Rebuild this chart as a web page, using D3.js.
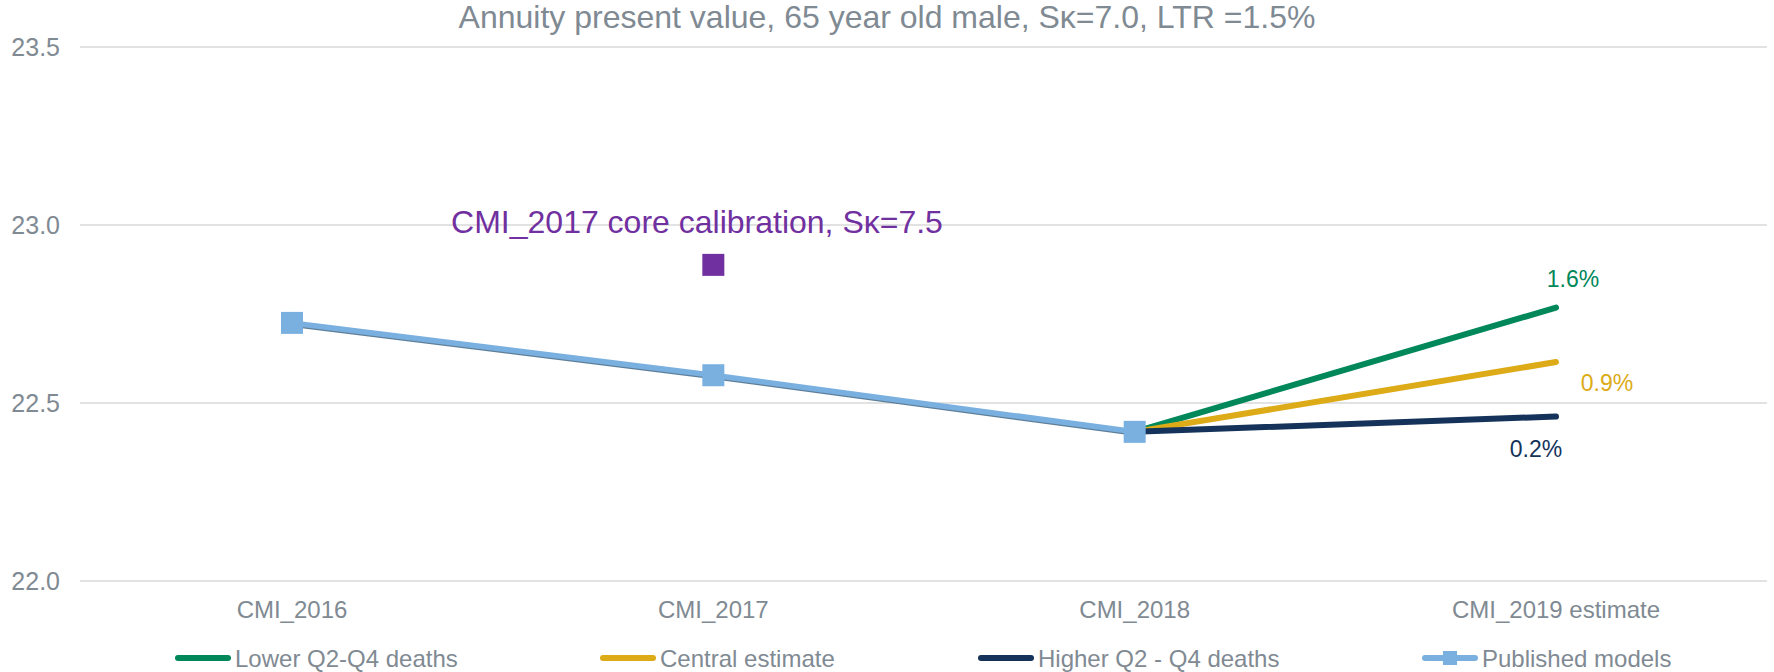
<!DOCTYPE html>
<html>
<head>
<meta charset="utf-8">
<script src="https://cdn.jsdelivr.net/npm/d3@7"></script>
<style>
  body { margin: 0; background: #fff; }
  text { font-family: "Liberation Sans", Arial, sans-serif; }
</style>
</head>
<body>
<div id="chart"></div>
<script>
// data
const categories = ["CMI_2016", "CMI_2017", "CMI_2018", "CMI_2019 estimate"];
const published = [22.725, 22.578, 22.419];
const lowerDeaths = [22.419, 22.768];
const centralEst = [22.419, 22.615];
const higherDeaths = [22.419, 22.462];
const coreCalibration = 22.888;
const scenarioLabels = ["1.6%", "0.9%", "0.2%"];
const yTicks = [22.0, 22.5, 23.0, 23.5];
const legendNames = ["Lower Q2-Q4 deaths", "Central estimate", "Higher Q2 - Q4 deaths", "Published models"];

const W = 1774, H = 672;
const grey = "#7f8a93";
const colors = { lower: "#00875a", central: "#dcab17", higher: "#15335a", pub: "#7ab0e0", core: "#7030a0" };

const svg = d3.select("#chart").append("svg")
    .attr("width", W)
    .attr("height", H);

const x = d3.scalePoint().domain(categories).range([292, 1556]);
const y = d3.scaleLinear().domain([22.0, 23.5]).range([581, 47]);

// gridlines + y labels
svg.append("g")
    .selectAll("line")
    .data(yTicks)
    .join("line")
    .attr("x1", 80).attr("x2", 1767)
    .attr("y1", d => y(d)).attr("y2", d => y(d))
    .attr("stroke", "#e2e2e2")
    .attr("stroke-width", 2);

svg.append("g")
    .selectAll("text")
    .data(yTicks)
    .join("text")
    .attr("x", 60)
    .attr("y", d => y(d) + 9)
    .attr("text-anchor", "end")
    .attr("font-size", 25)
    .attr("fill", grey)
    .text(d => d.toFixed(1));

// x labels
svg.append("g")
    .selectAll("text")
    .data(categories)
    .join("text")
    .attr("x", d => x(d))
    .attr("y", 618)
    .attr("text-anchor", "middle")
    .attr("font-size", 24)
    .attr("fill", grey)
    .text(d => d);

// title
svg.append("text")
    .attr("x", W / 2)
    .attr("y", 28)
    .attr("text-anchor", "middle")
    .attr("font-size", 32)
    .attr("fill", grey)
    .text("Annuity present value, 65 year old male, S\u03BA=7.0, LTR =1.5%");

const line = d3.line()
    .x(d => x(d.c))
    .y(d => y(d.v));

const scenCats = categories.slice(2);
const scenarios = [
    { vals: lowerDeaths, color: colors.lower },
    { vals: centralEst, color: colors.central },
    { vals: higherDeaths, color: colors.higher }
];

scenarios.forEach(s => {
    svg.append("path")
        .datum(s.vals.map((v, i) => ({ c: scenCats[i], v })))
        .attr("fill", "none")
        .attr("stroke", s.color)
        .attr("stroke-width", 6)
        .attr("stroke-linecap", "round")
        .attr("d", line);
});

// scenario % labels
const labelOffsets = [[17, -21], [51, 29], [-20, 40]];
svg.append("g")
    .selectAll("text")
    .data(scenarios)
    .join("text")
    .attr("x", (d, i) => x(categories[3]) + labelOffsets[i][0])
    .attr("y", (d, i) => y(d.vals[1]) + labelOffsets[i][1])
    .attr("text-anchor", "middle")
    .attr("font-size", 23)
    .attr("fill", d => d.color)
    .text((d, i) => scenarioLabels[i]);

// published models
const pubData = published.map((v, i) => ({ c: categories[i], v }));
svg.append("path")
    .datum(pubData)
    .attr("fill", "none")
    .attr("stroke", "#5e7f99")
    .attr("stroke-width", 6)
    .attr("transform", "translate(0,1)")
    .attr("d", line);
svg.append("path")
    .datum(pubData)
    .attr("fill", "none")
    .attr("stroke", colors.pub)
    .attr("stroke-width", 5.5)
    .attr("d", line);
svg.append("g")
    .selectAll("rect")
    .data(pubData)
    .join("rect")
    .attr("x", d => x(d.c) - 11)
    .attr("y", d => y(d.v) - 11)
    .attr("width", 22)
    .attr("height", 22)
    .attr("fill", colors.pub);

// CMI_2017 core calibration point
svg.append("rect")
    .attr("x", x("CMI_2017") - 11)
    .attr("y", y(coreCalibration) - 11)
    .attr("width", 22)
    .attr("height", 22)
    .attr("fill", colors.core);
svg.append("text")
    .attr("x", 697)
    .attr("y", 233)
    .attr("text-anchor", "middle")
    .attr("font-size", 32)
    .attr("fill", colors.core)
    .text("CMI_2017 core calibration, S\u03BA=7.5");

// legend
const legendX = [175, 600, 978, 1422];
const legendColors = [colors.lower, colors.central, colors.higher, colors.pub];
const lg = svg.append("g")
    .selectAll("g")
    .data(legendNames)
    .join("g")
    .attr("transform", (d, i) => `translate(${legendX[i]},658)`);
lg.append("line")
    .attr("x1", 3).attr("x2", 53)
    .attr("stroke", (d, i) => legendColors[i])
    .attr("stroke-width", 6)
    .attr("stroke-linecap", "round");
lg.filter((d, i) => i === 3)
    .append("rect")
    .attr("x", 21).attr("y", -7)
    .attr("width", 14).attr("height", 14)
    .attr("fill", colors.pub);
lg.append("text")
    .attr("x", 60)
    .attr("y", 9)
    .attr("font-size", 24)
    .attr("fill", grey)
    .text(d => d);
</script>
</body>
</html>
